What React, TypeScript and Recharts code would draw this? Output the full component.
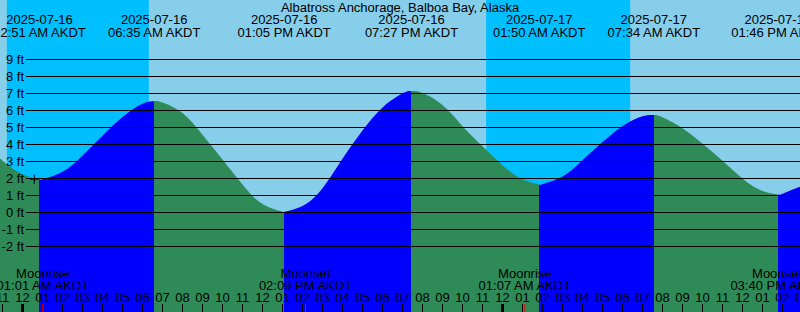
import { ComposedChart, Area, XAxis, YAxis, ReferenceArea, ReferenceDot } from 'recharts'

// hours counted from 2025-07-16 00:00 AKDT
const tideHours = [
  -1.125, -1, 0, 0.85, 1, 2, 3, 4, 5, 6, 6.583, 7, 8, 9, 10, 11, 12, 13, 13.083, 14, 15, 16, 17, 18, 19,
  19.45, 20, 21, 22, 23, 24, 25, 25.833, 26, 27, 28, 29, 30, 31, 31.567, 32, 33, 34, 35, 36, 37, 37.767,
  38, 38.875,
]
const tideFeet = [
  3.24, 3.05, 2.25, 1.94, 1.95, 2.4, 3.36, 4.52, 5.62, 6.4, 6.55, 6.47, 5.85, 4.57, 3.12, 1.64, 0.5,
  0.04, 0.03, 0.38, 1.42, 3.16, 4.82, 6.18, 7.0, 7.14, 7.03, 6.32, 5.08, 3.9, 2.78, 1.96, 1.65, 1.67, 2.12,
  3.08, 4.14, 5.08, 5.66, 5.73, 5.6, 4.95, 4.04, 3.04, 2.0, 1.26, 1.06, 1.1, 1.51,
]

const extremeHours = [0.85, 6.583, 13.083, 19.45, 25.833, 31.567, 37.767]
const extremeDates = ['2025-07-16', '2025-07-16', '2025-07-16', '2025-07-16', '2025-07-17', '2025-07-17', '2025-07-17']
const extremeTimes = [
  '12:51 AM AKDT', '06:35 AM AKDT', '01:05 PM AKDT', '07:27 PM AKDT',
  '01:50 AM AKDT', '07:34 AM AKDT', '01:46 PM AKDT',
]

const nightStarts = [-0.783, 23.183]
const nightEnds = [6.317, 30.383]

const moonHours = [1.017, 14.15, 25.117, 39.667]
const moonEvents = ['Moonrise', 'Moonset', 'Moonrise', 'Moonset']
const moonTimes = ['01:01 AM AKDT', '02:09 PM AKDT', '01:07 AM AKDT', '03:40 PM AKDT']

const nowHour = 0.59
const nowFeet = 1.96

const feetTicks = [-2, -1, 0, 1, 2, 3, 4, 5, 6, 7, 8, 9]
const hourTicks = Array.from({ length: 41 }, (_, i) => i - 1)

const DAY = '#87ceeb'
const NIGHT = '#00bfff'
const RISE = '#0000ff'
const FALL = '#2e8b57'

const H_MIN = tideHours[0]
const H_MAX = tideHours[tideHours.length - 1]

const data = tideHours.map((h, i) => ({ h, ft: tideFeet[i] }))

// rising = blue, falling = green, split at each high / low
const feetAt = (h: number) => tideFeet[tideHours.indexOf(h)]
const bounds = [H_MIN, ...extremeHours, H_MAX]
const fillStops = bounds.slice(0, -1).flatMap((b, i) => {
  const e = bounds[i + 1]
  const color = feetAt(e) > feetAt(b) ? RISE : FALL
  return [
    { offset: (b - H_MIN) / (H_MAX - H_MIN), color },
    { offset: (e - H_MIN) / (H_MAX - H_MIN), color },
  ]
})

function FeetTick({ y, payload }: any) {
  return (
    <g>
      <line x1={26} x2={800} y1={y} y2={y} stroke="#000" strokeWidth={1} />
      <text x={24} y={y + 4.5} textAnchor="end" fill="#000">
        {payload.value} ft
      </text>
    </g>
  )
}

function HourTick({ x, payload }: any) {
  const hr = ((payload.value % 24) + 24) % 24
  const label = String(hr % 12 === 0 ? 12 : hr % 12).padStart(2, '0')
  return (
    <g>
      <text x={x} y={302} textAnchor="middle" fill="#000">
        {label}
      </text>
      <line x1={x} x2={x} y1={304} y2={312} stroke="#000" strokeWidth={hr === 0 ? 3 : 1} />
    </g>
  )
}

function MoonTick({ x, payload }: any) {
  const i = moonHours.indexOf(payload.value)
  // labels past the right edge are pulled back in, the tick stays at the event time
  const lx = Math.min(x, 777)
  return (
    <g>
      <text x={lx} y={278} textAnchor="middle" fill="#000">
        {moonEvents[i]}
      </text>
      <text x={lx} y={290} textAnchor="middle" fill="#000">
        {moonTimes[i]}
      </text>
      <line x1={x} x2={x} y1={304} y2={312} stroke="#ff0000" strokeWidth={1} />
    </g>
  )
}

function ExtremeTick({ x, payload }: any) {
  const i = extremeHours.indexOf(payload.value)
  return (
    <g>
      <text x={x} y={24} textAnchor="middle" fill="#000">
        {extremeDates[i]}
      </text>
      <text x={x} y={36.5} textAnchor="middle" fill="#000">
        {extremeTimes[i]}
      </text>
    </g>
  )
}

function NowMark({ cx, cy }: any) {
  return (
    <g>
      <line x1={cx - 4.5} x2={cx + 4.5} y1={cy} y2={cy} stroke="#000" />
      <line x1={cx} x2={cx} y1={cy - 4.5} y2={cy + 4.5} stroke="#000" />
    </g>
  )
}

// axes need a size > 0 to draw their ticks; the negative margins take it back
const axisCommon = {
  type: 'number' as const,
  dataKey: 'h',
  domain: [H_MIN, H_MAX],
  allowDataOverflow: true,
  height: 1,
  interval: 0 as const,
  axisLine: false,
  tickLine: false,
}

export default function App() {
  return (
    <div
      style={{
        position: 'relative',
        width: 800,
        height: 312,
        background: DAY,
        fontFamily: '"Liberation Sans", Arial, sans-serif',
        fontSize: 13,
      }}
    >
      <style>{'body{margin:0}'}</style>
      <ComposedChart width={800} height={312} data={data} margin={{ top: -1, right: 0, bottom: -2, left: -1 }}>
        <defs>
          <linearGradient id="tideFill" x1="0" y1="0" x2="1" y2="0">
            {fillStops.map((s, i) => (
              <stop key={i} offset={s.offset} stopColor={s.color} />
            ))}
          </linearGradient>
        </defs>
        {nightStarts.map((s, i) => (
          <ReferenceArea
            key={i}
            xAxisId="h"
            yAxisId="ft"
            x1={s}
            x2={nightEnds[i]}
            fill={NIGHT}
            fillOpacity={1}
            stroke="none"
          />
        ))}
        <Area
          xAxisId="h"
          yAxisId="ft"
          type="natural"
          dataKey="ft"
          stroke="none"
          fill="url(#tideFill)"
          fillOpacity={1}
          baseValue="dataMin"
          dot={false}
          activeDot={false}
          isAnimationActive={false}
        />
        <XAxis xAxisId="top" orientation="top" {...axisCommon} ticks={extremeHours} tick={<ExtremeTick />} />
        <XAxis xAxisId="h" {...axisCommon} ticks={hourTicks} tick={<HourTick />} />
        <XAxis xAxisId="moon" {...axisCommon} ticks={moonHours} tick={<MoonTick />} />
        <YAxis
          yAxisId="ft"
          type="number"
          domain={[-99.5 / 17, 12.5]}
          allowDataOverflow
          width={1}
          ticks={feetTicks}
          interval={0}
          axisLine={false}
          tickLine={false}
          tick={<FeetTick />}
        />
        <ReferenceDot xAxisId="h" yAxisId="ft" x={nowHour} y={nowFeet} shape={<NowMark />} />
      </ComposedChart>
      <div
        style={{
          position: 'absolute',
          top: 0,
          left: 0,
          width: 800,
          textAlign: 'center',
          pointerEvents: 'none',
        }}
      >
        Albatross Anchorage, Balboa Bay, Alaska
      </div>
    </div>
  )
}
